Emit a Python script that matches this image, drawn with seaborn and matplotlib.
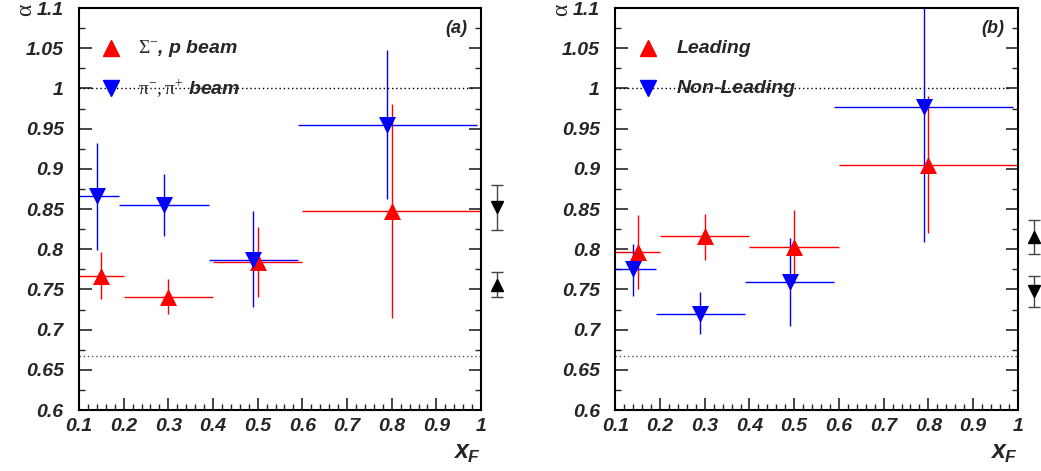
import numpy as np
import matplotlib
matplotlib.use('Agg')
import matplotlib.pyplot as plt
import pandas as pd
import seaborn as sns
from matplotlib.ticker import MultipleLocator

# ---- data ----
# panel (a)
a_red_x = [0.15, 0.30, 0.50, 0.80]
a_red_y = [0.767, 0.741, 0.784, 0.848]
a_red_xlo = [0.10, 0.20, 0.40, 0.60]
a_red_xhi = [0.20, 0.40, 0.60, 1.00]
a_red_ylo = [0.738, 0.719, 0.740, 0.714]
a_red_yhi = [0.796, 0.763, 0.828, 0.981]

a_blue_x = [0.14, 0.29, 0.49, 0.79]
a_blue_y = [0.866, 0.855, 0.787, 0.955]
a_blue_xlo = [0.10, 0.19, 0.39, 0.59]
a_blue_xhi = [0.19, 0.39, 0.59, 0.99]
a_blue_ylo = [0.799, 0.816, 0.728, 0.862]
a_blue_yhi = [0.932, 0.894, 0.848, 1.048]

a_avg_y = [0.7555, 0.852]          # up, down
a_avg_ylo = [0.740, 0.824]
a_avg_yhi = [0.772, 0.880]

# panel (b)
b_red_x = [0.15, 0.30, 0.50, 0.80]
b_red_y = [0.797, 0.816, 0.803, 0.905]
b_red_xlo = [0.10, 0.20, 0.40, 0.60]
b_red_xhi = [0.20, 0.40, 0.60, 1.00]
b_red_ylo = [0.750, 0.787, 0.758, 0.820]
b_red_yhi = [0.843, 0.844, 0.849, 0.991]

b_blue_x = [0.14, 0.29, 0.49, 0.79]
b_blue_y = [0.775, 0.720, 0.759, 0.977]
b_blue_xlo = [0.10, 0.19, 0.39, 0.59]
b_blue_xhi = [0.19, 0.39, 0.59, 0.99]
b_blue_ylo = [0.742, 0.694, 0.704, 0.809]
b_blue_yhi = [0.807, 0.747, 0.814, 1.150]

b_avg_y = [0.815, 0.748]
b_avg_ylo = [0.794, 0.728]
b_avg_yhi = [0.836, 0.767]

avg_x = 1.036

sns.set_style('white')
plt.rcParams['font.family'] = ['Liberation Sans', 'DejaVu Sans']
plt.rcParams['mathtext.fontset'] = 'custom'
plt.rcParams['mathtext.it'] = 'Liberation Sans:bold:italic'
plt.rcParams['mathtext.rm'] = 'Liberation Serif'
plt.rcParams['mathtext.bf'] = 'Liberation Sans:bold'

RED = '#ff0000'
BLUE = '#0000ff'

fig = plt.figure(figsize=(10.41, 4.71), dpi=100)
ax1 = fig.add_axes([0.0759, 0.1295, 0.3862, 0.8535])
ax2 = fig.add_axes([0.5911, 0.1295, 0.3866, 0.8535])


def draw_series(ax, x, y, xlo, xhi, ylo, yhi, color, marker):
    x = np.array(x); y = np.array(y)
    xerr = [x - np.array(xlo), np.array(xhi) - x]
    yerr = [y - np.array(ylo), np.array(yhi) - y]
    ax.errorbar(x, y, xerr=xerr, yerr=yerr, fmt='none', ecolor=color,
                elinewidth=1.0, capsize=0, clip_on=True, zorder=2)
    df = pd.DataFrame({'x': x, 'y': y})
    sns.scatterplot(data=df, x='x', y='y', ax=ax, marker=marker, s=150,
                    color=color, edgecolor=color, linewidth=0, zorder=3,
                    legend=False)


def draw_avg(ax, ys, ylo, yhi):
    markers = ['^', 'v']
    for yv, lo, hi, m in zip(ys, ylo, yhi, markers):
        ax.errorbar([avg_x], [yv], yerr=[[yv - lo], [hi - yv]], fmt=m,
                    color='black', ecolor='#444444', ms=8, elinewidth=1.0,
                    capsize=4, capthick=1.0, clip_on=False, zorder=4)


def style_axes(ax, tag, labels):
    ax.set_xlim(0.1, 1.0)
    ax.set_ylim(0.6, 1.1)
    ax.xaxis.set_major_locator(MultipleLocator(0.1))
    ax.xaxis.set_minor_locator(MultipleLocator(0.02))
    ax.yaxis.set_major_locator(MultipleLocator(0.05))
    ax.yaxis.set_minor_locator(MultipleLocator(0.025))
    ax.xaxis.set_major_formatter(plt.FuncFormatter(lambda v, p: f'{v:g}'))
    ax.yaxis.set_major_formatter(plt.FuncFormatter(lambda v, p: f'{v:g}'))
    ax.tick_params(which='major', direction='in', length=9, width=1.2,
                   left=True, right=True, bottom=True, top=False,
                   labelsize=14)
    ax.tick_params(axis='y', which='major', pad=11)
    ax.tick_params(axis='x', which='major', pad=6)
    ax.tick_params(which='minor', direction='in', length=4.5, width=1.0,
                   left=True, right=True, bottom=True, top=False)
    for lab in ax.get_xticklabels() + ax.get_yticklabels():
        lab.set_fontweight('bold')
        lab.set_fontstyle('italic')
    for sp in ax.spines.values():
        sp.set_linewidth(1.5)
        sp.set_color('black')
    ax.hlines(1.0, 0.1, 0.98, colors='black', linestyles=(0, (1, 2)),
              linewidth=1.0, zorder=1)
    ax.hlines(2.0 / 3.0, 0.1, 1.0, colors='#555555', linestyles=(0, (1, 2)),
              linewidth=1.0, zorder=1)
    ax.set_xlabel('$x_F$', fontsize=18, loc='right', labelpad=4)
    ax.set_ylabel('α', fontsize=17, family='Liberation Serif')
    ax.yaxis.set_label_coords(-0.16, 0.996)
    ax.yaxis.label.set_ha('center')
    ax.yaxis.label.set_va('top')
    ax.text(0.97, 1.075, tag, ha='right', va='center', fontsize=13,
            fontweight='bold', fontstyle='italic')
    # legend built by hand in ROOT style
    ax.plot([0.172], [1.05], marker='^', color=RED, ms=11, ls='none')
    ax.plot([0.172], [1.0], marker='v', color=BLUE, ms=11, ls='none')
    ax.text(labels[2], 1.05, labels[0], ha='left', va='center', fontsize=14,
            fontweight='bold', fontstyle='italic')
    ax.text(labels[2], 1.0, labels[1], ha='left', va='center', fontsize=14,
            fontweight='bold', fontstyle='italic')
    ax.set_facecolor('white')


draw_series(ax1, a_red_x, a_red_y, a_red_xlo, a_red_xhi, a_red_ylo, a_red_yhi, RED, '^')
draw_series(ax1, a_blue_x, a_blue_y, a_blue_xlo, a_blue_xhi, a_blue_ylo, a_blue_yhi, BLUE, 'v')
draw_avg(ax1, a_avg_y, a_avg_ylo, a_avg_yhi)
style_axes(ax1, '(a)', [r'$\mathrm{\Sigma}^{-}$, p beam',
                        r'$\mathrm{\pi}^{-}, \mathrm{\pi}^{+}$ beam', 0.232])

draw_series(ax2, b_red_x, b_red_y, b_red_xlo, b_red_xhi, b_red_ylo, b_red_yhi, RED, '^')
draw_series(ax2, b_blue_x, b_blue_y, b_blue_xlo, b_blue_xhi, b_blue_ylo, b_blue_yhi, BLUE, 'v')
draw_avg(ax2, b_avg_y, b_avg_ylo, b_avg_yhi)
style_axes(ax2, '(b)', ['Leading', 'Non-Leading', 0.237])

fig.savefig('out.png', dpi=100, facecolor='white')
